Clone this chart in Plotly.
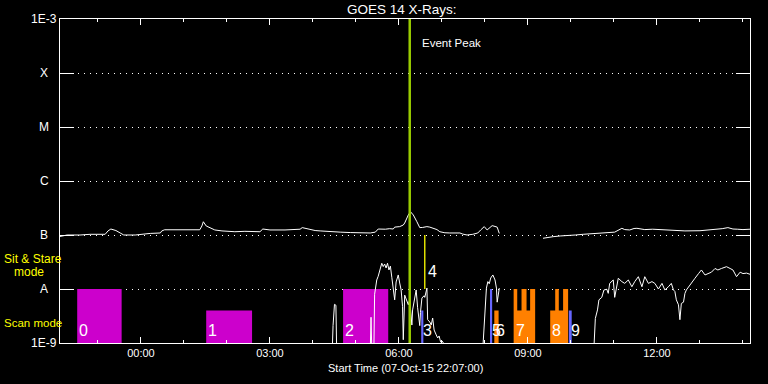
import math
import pandas as pd
import plotly.graph_objects as go

# ---------------- data ----------------
# GOES long channel (1-8 A), times HH:MM (22:xx/23:xx are on 07-Oct, rest on 08-Oct)
long_t = ["22:07","22:11","22:17","22:35","22:49","23:10","23:14","23:18","23:25","23:31",
          "23:36","23:52","00:01","00:13","00:27","00:29","00:33","00:54","01:08","01:22",
          "01:25","01:27","01:31","01:36","01:43","01:53","02:11","02:25","02:46","02:50",
          "03:00","03:21","03:42","03:45","03:53","04:03","04:10","04:24","04:38","04:52",
          "05:06","05:20","05:27","05:31","05:41","05:47","05:52","05:54","06:01","06:06",
          "06:08","06:11","06:13","06:16","06:20","06:25","06:29","06:33","06:39","06:43",
          "06:47","06:53","06:57","07:04","07:11","07:25","07:29","07:35","07:43","07:50",
          "07:54","07:59","08:03","08:07","08:10","08:14","08:17","08:20", None,
          "09:21","09:27","09:35","09:45","09:54","10:06","10:17","10:33","10:50","11:01",
          "11:11","11:15","11:22","11:28","11:32","11:43","11:54","12:08","12:22","12:39",
          "13:00","13:14","13:23","13:31","13:39","13:46","13:52","14:00","14:10"]
long_f = [9.4e-8,9.6e-8,1.0e-7,1.0e-7,1.03e-7,1.03e-7,1.19e-7,1.29e-7,1.21e-7,1.09e-7,
          1.0e-7,1.0e-7,1.04e-7,1.07e-7,1.09e-7,1.19e-7,1.25e-7,1.25e-7,1.24e-7,1.25e-7,
          1.47e-7,1.76e-7,1.47e-7,1.35e-7,1.24e-7,1.19e-7,1.15e-7,1.17e-7,1.15e-7,1.29e-7,
          1.24e-7,1.24e-7,1.28e-7,1.37e-7,1.29e-7,1.21e-7,1.19e-7,1.15e-7,1.13e-7,1.11e-7,
          1.09e-7,1.09e-7,1.13e-7,1.29e-7,1.28e-7,1.31e-7,1.29e-7,1.40e-7,1.43e-7,1.53e-7,
          1.67e-7,2.15e-7,2.35e-7,2.70e-7,2.35e-7,1.76e-7,1.37e-7,1.38e-7,1.43e-7,1.40e-7,
          1.33e-7,1.26e-7,1.15e-7,1.10e-7,1.09e-7,1.09e-7,1.04e-7,1.0e-7,1.03e-7,1.09e-7,
          1.24e-7,1.43e-7,1.24e-7,1.40e-7,1.49e-7,1.44e-7,1.40e-7,1.07e-7, None,
          8.7e-8,9.0e-8,9.3e-8,9.6e-8,9.7e-8,1.0e-7,1.03e-7,1.06e-7,1.12e-7,1.13e-7,
          1.33e-7,1.26e-7,1.24e-7,1.32e-7,1.33e-7,1.26e-7,1.28e-7,1.24e-7,1.20e-7,1.19e-7,
          1.20e-7,1.24e-7,1.29e-7,1.31e-7,1.37e-7,1.29e-7,1.28e-7,1.26e-7,1.28e-7]

# GOES short channel (0.5-4 A)
short_t = ["04:27","04:28","04:30","04:32","04:33", None,
           "05:20","05:21","05:22","05:25","05:26","05:29","05:31","05:33","05:36","05:38",
           "05:40","05:42","05:44","05:46","05:48","05:50","05:52","05:54","05:56","05:59",
           "06:01","06:03","06:05","06:06","06:08","06:10","06:13","06:15","06:18","06:19",
           "06:22","06:24","06:26","06:29","06:30","06:32","06:35","06:36","06:39","06:40",
           "06:43","06:45","06:47","06:49","06:52","06:54","06:56","06:58","07:00","07:02",
           "07:03", None,
           "07:57","07:59","08:01","08:02","08:04","08:06","08:08","08:11","08:14","08:16",
           "08:17","08:19","08:20", None,
           "10:32","10:34","10:37","10:39","10:43","10:46","10:50","10:52","10:54","10:57",
           "10:59","11:01","11:04","11:06","11:11","11:15","11:20","11:25","11:29","11:34",
           "11:39","11:43","11:48","11:53","11:57","12:02","12:07","12:11","12:16","12:20",
           "12:23","12:25","12:27","12:30","12:32","12:34","12:37","12:39","12:41","12:44",
           "12:48","12:53","12:58","13:02","13:07","13:12","13:16","13:21","13:25","13:30",
           "13:37","13:42","13:46","13:51","13:56","14:00","14:05","14:10"]
short_f = [8e-10,2.1e-9,5.2e-9,5.0e-9,8e-10, None,
           8e-10,3e-9,8e-10,8e-10,8e-9,1.47e-8,1.72e-8,2.25e-8,3.0e-8,2.6e-8,
           2.9e-8,2.45e-8,3.0e-8,2.25e-8,2.65e-8,1.65e-8,9.6e-9,6.3e-9,1.35e-8,1.82e-8,
           1.29e-8,9.6e-9,4.7e-9,1.15e-9,7.7e-9,6.3e-9,5.1e-9,6.3e-9,2.15e-9,4.1e-9,
           6.8e-9,9.6e-9,4.5e-9,2.1e-9,3.7e-9,6.8e-9,7.5e-9,7.0e-9,1.04e-8,2.7e-9,
           2.45e-9,2.15e-9,2.9e-9,1.74e-9,1.41e-9,1.24e-9,1.35e-9,1.05e-9,1.1e-9,1.0e-9,
           8e-10, None,
           8e-10,2.7e-9,5.1e-9,1.04e-8,1.37e-8,1.25e-8,1.6e-8,1.82e-8,1.47e-8,1.04e-8,
           5.7e-9,8.8e-9,1.04e-8, None,
           8e-10,2.85e-9,4.1e-9,6.3e-9,7.0e-9,9.6e-9,9.9e-9,8.3e-9,1.27e-8,1.37e-8,
           1.47e-8,7.0e-9,1.27e-8,1.58e-8,1.37e-8,1.27e-8,1.47e-8,1.10e-8,1.37e-8,1.69e-8,
           1.10e-8,1.69e-8,1.27e-8,1.37e-8,1.27e-8,1.0e-8,1.27e-8,9.6e-9,1.1e-8,1.27e-8,
           9.6e-9,9.0e-9,6.3e-9,5.1e-9,2.7e-9,5.4e-9,5.7e-9,8.3e-9,9.6e-9,1.1e-8,
           1.27e-8,1.58e-8,1.93e-8,2.25e-8,1.82e-8,1.93e-8,2.05e-8,2.4e-8,2.25e-8,2.4e-8,
           2.59e-8,2.4e-8,2.25e-8,1.69e-8,2.05e-8,1.93e-8,1.97e-8,1.87e-8]

# Scan mode pieces
scan_start = ["22:31","01:31","04:42","06:31","08:07","08:13","08:40","08:45","08:51","08:58",
              "09:03","09:31","09:38","09:43","09:49","09:57"]
scan_end   = ["23:33","02:35","05:45","06:34","08:10","08:19","08:45","08:51","08:58","09:03",
              "09:10","09:38","09:43","09:49","09:56","10:01"]
scan_level = [1e-8,4e-9,1e-8,4e-9,1e-8,4e-9,1e-8,4e-9,1e-8,4e-9,
              1e-8,4e-9,1e-8,4e-9,1e-8,4e-9]
scan_kind  = ["m","m","m","b","b","o","o","o","o","o","o","o","o","o","o","b"]

scan_labels = ["0","1","2","3","5","6","7","8","9"]
scan_label_t = ["22:31","01:31","04:42","06:31","08:07","08:13","08:40","09:31","09:57"]

# Sit & stare event
stare_label = "4"
stare_t = "06:36"
stare_range = [1e-8, 1e-7]

event_peak_t = "06:15"

y_tick_vals = [1e-3, 1e-4, 1e-5, 1e-6, 1e-7, 1e-8, 1e-9]
y_tick_text = ["1E-3", "X", "M", "C", "B", "A", "1E-9"]

x_start = "2015-10-07 22:07:00"
x_end = "2015-10-08 14:09:48"

assert len(long_t) == len(long_f) and len(short_t) == len(short_f)
assert len(scan_start) == len(scan_end) == len(scan_level) == len(scan_kind)


def stamp(hhmm):
    if hhmm is None:
        return None
    day = "2015-10-07" if int(hhmm[:2]) >= 22 else "2015-10-08"
    return f"{day} {hhmm}:00"


# ---------------- figure ----------------
W, H = 768, 384
L, R, T, B = 60, 18, 19, 41
PW, PH = W - L - R, H - T - B


def px(x):
    return (x - L) / PW


def py(y):
    return (H - B - y) / PH


FONT = "Liberation Sans"
fig = go.Figure()

colors = {"m": "#cc00cc", "b": "#6666ff", "o": "#ff8000"}
BASE = 1e-9
for kind in ["m", "o", "b"]:
    xs, ys = [], []
    for s, e, lv, k in zip(scan_start, scan_end, scan_level, scan_kind):
        if k != kind:
            continue
        xs += [stamp(s), stamp(s), stamp(e), stamp(e), stamp(s), None]
        ys += [BASE, lv, lv, BASE, BASE, None]
    fig.add_trace(go.Scatter(x=xs, y=ys, mode="lines", fill="toself",
                             fillcolor=colors[kind], line=dict(width=0, color=colors[kind]),
                             hoverinfo="skip", showlegend=False))

fig.add_trace(go.Scatter(x=[stamp(t) for t in long_t], y=long_f, mode="lines",
                         line=dict(color="white", width=1), showlegend=False))
fig.add_trace(go.Scatter(x=[stamp(t) for t in short_t], y=short_f, mode="lines",
                         line=dict(color="white", width=1), showlegend=False))

fig.add_trace(go.Scatter(x=[stamp(stare_t)] * 2, y=stare_range, mode="lines",
                         line=dict(color="#ffff00", width=1.3), showlegend=False))
fig.add_trace(go.Scatter(x=[stamp(event_peak_t)] * 2, y=[1e-9, 1e-3], mode="lines",
                         line=dict(color="#99cc00", width=2.5), showlegend=False))

ann = []
for lab, t in zip(scan_labels, scan_label_t):
    ann.append(dict(x=stamp(t), y=math.log10(1.74e-9), xref="x", yref="y", text=lab,
                    showarrow=False, xanchor="left", yanchor="middle", xshift=0,
                    font=dict(color="white", size=16, family=FONT)))
ann.append(dict(x=stamp(stare_t), y=math.log10(2.09e-8), xref="x", yref="y", text=stare_label,
                showarrow=False, xanchor="left", yanchor="middle", xshift=1,
                font=dict(color="white", size=16, family=FONT)))
ann.append(dict(x=stamp(event_peak_t), y=py(43), xref="x", yref="paper", text="Event Peak",
                showarrow=False, xanchor="left", yanchor="middle", xshift=10,
                font=dict(color="white", size=11.5, family=FONT)))
for v, txt in zip(y_tick_vals, y_tick_text):
    ann.append(dict(x=px(44), y=math.log10(v), xref="paper", yref="y", text=txt,
                    showarrow=False, xanchor="center", yanchor="middle",
                    font=dict(color="white", size=12, family=FONT)))
ann.append(dict(x=px(2), y=py(259), xref="paper", yref="paper", text="Sit & Stare",
                showarrow=False, xanchor="left", yanchor="middle",
                font=dict(color="#ffff00", size=12, family=FONT)))
ann.append(dict(x=px(12), y=py(272), xref="paper", yref="paper", text="mode",
                showarrow=False, xanchor="left", yanchor="middle",
                font=dict(color="#ffff00", size=12, family=FONT)))
ann.append(dict(x=px(2), y=py(323), xref="paper", yref="paper", text="Scan mode",
                showarrow=False, xanchor="left", yanchor="middle",
                font=dict(color="#ffff00", size=11.5, family=FONT)))
ann.append(dict(x=px(402), y=py(9), xref="paper", yref="paper", text="GOES 14 X-Rays:",
                showarrow=False, xanchor="center", yanchor="middle",
                font=dict(color="white", size=13.5, family=FONT)))
ann.append(dict(x=px(405), y=py(368), xref="paper", yref="paper",
                text="Start Time (07-Oct-15 22:07:00)",
                showarrow=False, xanchor="center", yanchor="middle",
                font=dict(color="white", size=11, family=FONT)))

fig.update_layout(
    width=W, height=H,
    margin=dict(l=L, r=R, t=T, b=B, pad=0, autoexpand=False),
    paper_bgcolor="black", plot_bgcolor="black",
    showlegend=False,
    annotations=ann,
    xaxis=dict(type="date", range=[x_start, x_end], showgrid=False, zeroline=False,
               showline=True, linecolor="white", linewidth=1, mirror="ticks",
               ticks="inside", ticklen=6, tickcolor="white", tickwidth=1,
               tick0="2015-10-08 00:00:00", dtick=3 * 3600 * 1000, tickformat="%H:%M",
               tickfont=dict(color="white", size=11, family=FONT), automargin=False,
               minor=dict(ticks="inside", ticklen=3, tickcolor="white",
                          dtick=3600 * 1000, tick0="2015-10-08 00:00:00", showgrid=False)),
    yaxis=dict(type="log", range=[-9, -3], showline=True, linecolor="white", linewidth=1,
               mirror="ticks", ticks="inside", ticklen=14, tickcolor="white", tickwidth=1,
               tickvals=[1e-4, 1e-5, 1e-6, 1e-7, 1e-8], showticklabels=False,
               showgrid=True, gridcolor="white", gridwidth=1, griddash="1px,5px",
               zeroline=False, automargin=False),
)

fig.write_html("out.html", config={"displayModeBar": False},
               post_script="document.body.style.margin='0';document.body.style.background='black';")
